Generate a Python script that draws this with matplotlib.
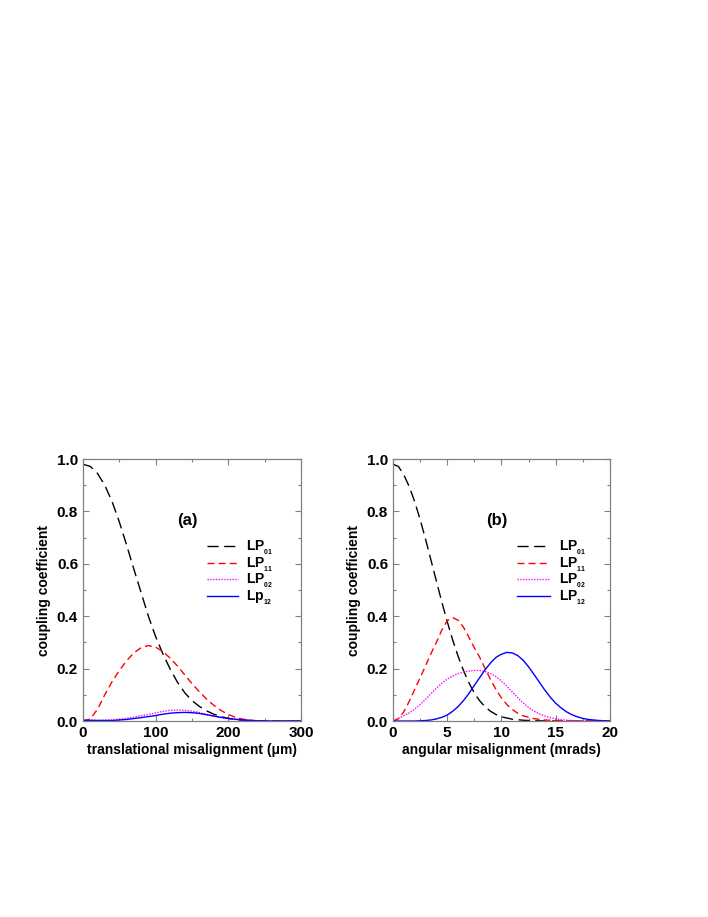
import matplotlib
matplotlib.use('Agg')
import matplotlib.pyplot as plt

plt.rcParams['font.family'] = ['Liberation Sans', 'DejaVu Sans']
plt.rcParams['font.weight'] = 'bold'
plt.rcParams['mathtext.fontset'] = 'custom'
plt.rcParams['mathtext.rm'] = 'Liberation Sans:bold'
plt.rcParams['mathtext.bf'] = 'Liberation Sans:bold'
plt.rcParams['mathtext.default'] = 'bf'

# (a) translational misalignment (um)
xa_01 = [0, 10, 20, 30, 40, 50, 60, 70, 80, 90, 100, 110, 120, 130, 140, 150, 160, 170, 180, 190, 200, 210, 220, 235, 250, 300]
ya_01 = [0.98, 0.972, 0.945, 0.9, 0.838, 0.76, 0.672, 0.58, 0.49, 0.4, 0.322, 0.256, 0.198, 0.148, 0.108, 0.078,
         0.056, 0.039, 0.026, 0.017, 0.01, 0.006, 0.003, 0.001, 0.0, 0.0]
xa_11 = [0, 10, 20, 30, 40, 50, 60, 70, 80, 90, 100, 110, 120, 130, 140, 150, 160, 170, 180, 190, 200, 210, 220, 230, 240, 260, 300]
ya_11 = [0.0, 0.008, 0.045, 0.1, 0.15, 0.193, 0.23, 0.26, 0.28, 0.288, 0.282, 0.265, 0.24, 0.21, 0.176, 0.143,
         0.112, 0.084, 0.06, 0.04, 0.025, 0.014, 0.007, 0.003, 0.001, 0.0, 0.0]
xa_02 = [0, 20, 40, 60, 80, 100, 110, 120, 130, 140, 150, 160, 170, 180, 190, 200, 210, 220, 240, 260, 300]
ya_02 = [0.004, 0.003, 0.004, 0.01, 0.02, 0.031, 0.037, 0.041, 0.042, 0.041, 0.038, 0.032, 0.026, 0.019, 0.013,
         0.009, 0.006, 0.004, 0.001, 0.0, 0.0]
xa_12 = [0, 20, 40, 60, 80, 100, 110, 120, 130, 140, 150, 160, 170, 180, 190, 200, 210, 220, 240, 260, 300]
ya_12 = [0.003, 0.002, 0.002, 0.006, 0.013, 0.021, 0.026, 0.03, 0.032, 0.033, 0.032, 0.029, 0.024, 0.019, 0.014,
         0.01, 0.007, 0.004, 0.001, 0.0, 0.0]

# (b) angular misalignment (mrads)
xb_01 = [0, 0.5, 1, 1.5, 2, 2.5, 3, 3.5, 4, 4.5, 5, 5.5, 6, 6.5, 7, 7.5, 8, 8.5, 9, 9.5, 10, 11, 12, 13, 15, 20]
yb_01 = [0.98, 0.972, 0.94, 0.895, 0.838, 0.77, 0.695, 0.615, 0.535, 0.455, 0.38, 0.31, 0.248, 0.193, 0.146,
         0.107, 0.077, 0.054, 0.037, 0.025, 0.016, 0.007, 0.003, 0.001, 0.0, 0.0]
xb_11 = [0, 0.5, 1, 1.5, 2, 2.5, 3, 3.5, 4, 4.5, 5, 5.5, 6, 6.5, 7, 7.5, 8, 8.5, 9, 9.5, 10, 10.5, 11, 11.5, 12,
         13, 14, 15, 17, 20]
yb_11 = [0.0, 0.008, 0.035, 0.075, 0.12, 0.165, 0.21, 0.257, 0.3, 0.347, 0.383, 0.395, 0.385, 0.358, 0.32, 0.28,
         0.243, 0.2, 0.158, 0.12, 0.088, 0.063, 0.044, 0.03, 0.02, 0.009, 0.004, 0.002, 0.0, 0.0]
xb_02 = [0, 0.5, 1, 1.5, 2, 2.5, 3, 3.5, 4, 4.5, 5, 5.5, 6, 6.5, 7, 7.5, 8, 8.5, 9, 9.5, 10, 10.5, 11, 11.5, 12,
         12.5, 13, 13.5, 14, 14.5, 15, 16, 17, 18, 20]
yb_02 = [0.005, 0.01, 0.02, 0.031, 0.045, 0.063, 0.083, 0.104, 0.125, 0.144, 0.16, 0.172, 0.181, 0.187, 0.191,
         0.193, 0.193, 0.189, 0.181, 0.169, 0.153, 0.133, 0.111, 0.089, 0.069, 0.052, 0.038, 0.027, 0.019, 0.013,
         0.008, 0.003, 0.001, 0.0, 0.0]
xb_12 = [0, 2, 3, 3.5, 4, 4.5, 5, 5.5, 6, 6.5, 7, 7.5, 8, 8.5, 9, 9.5, 10, 10.5, 11, 11.5, 12, 12.5, 13, 13.5, 14,
         14.5, 15, 15.5, 16, 16.5, 17, 17.5, 18, 19, 20]
yb_12 = [0.0, 0.0, 0.002, 0.004, 0.008, 0.014, 0.023, 0.037, 0.055, 0.078, 0.105, 0.136, 0.166, 0.196, 0.222,
         0.243, 0.255, 0.262, 0.26, 0.25, 0.232, 0.207, 0.178, 0.148, 0.118, 0.091, 0.068, 0.05, 0.035, 0.024,
         0.016, 0.01, 0.006, 0.002, 0.0]

labels_a = [r'LP$_{_{01}}$', r'LP$_{_{11}}$', r'LP$_{_{02}}$', r'Lp$_{_{12}}$']
labels_b = [r'LP$_{_{01}}$', r'LP$_{_{11}}$', r'LP$_{_{02}}$', r'LP$_{_{12}}$']

styles = [dict(color='black', dashes=(8, 4)),
          dict(color='red', dashes=(5, 3)),
          dict(color='magenta', dashes=(1, 1)),
          dict(color='blue', linestyle='-')]

fig = plt.figure(figsize=(7.08, 9.17), dpi=100)
ax1 = fig.add_axes([0.1172, 0.2137, 0.308, 0.2857])
ax2 = fig.add_axes([0.555, 0.2137, 0.3065, 0.2857])


def draw(ax, xs, ys, labels, xmax, xmajor, xlabel, tag, leg_x, hlen):
    for x, y, lab, st in zip(xs, ys, labels, styles):
        ax.plot(x, y, lw=1.0, label=lab, **st)
    ax.set_xlim(0, xmax)
    ax.set_ylim(0, 1.0)
    ax.set_xticks([i * xmajor for i in range(int(xmax / xmajor) + 1)])
    ax.set_xticks([(i + 0.5) * xmajor for i in range(int(xmax / xmajor))], minor=True)
    ax.set_yticks([0, 0.2, 0.4, 0.6, 0.8, 1.0])
    ax.set_yticks([0.1, 0.3, 0.5, 0.7, 0.9], minor=True)
    ax.set_yticklabels(['0.0', '0.2', '0.4', '0.6', '0.8', '1.0'])
    ax.tick_params(which='both', direction='in', top=True, right=True, color='#808080',
                   labelsize=11, width=0.8)
    ax.tick_params(which='major', length=4)
    ax.tick_params(which='minor', length=2)
    for sp in ax.spines.values():
        sp.set_color('#808080')
        sp.set_linewidth(0.9)
    ax.set_xlabel(xlabel, fontsize=10, fontweight='bold', labelpad=2)
    ax.set_ylabel('coupling coefficient', fontsize=10, fontweight='bold', labelpad=4)
    ax.text(0.48, 0.765, tag, transform=ax.transAxes, fontsize=12, fontweight='bold',
            ha='center', va='center')
    ax.legend(loc='upper left', bbox_to_anchor=(leg_x, 0.694), frameon=False,
              fontsize=10, handlelength=hlen, handletextpad=0.6, labelspacing=-0.12,
              borderpad=0, borderaxespad=0)


draw(ax1, [xa_01, xa_11, xa_02, xa_12], [ya_01, ya_11, ya_02, ya_12], labels_a,
     300, 100, 'translational misalignment (\u03bcm)', '(a)', 0.569, 2.2)
draw(ax2, [xb_01, xb_11, xb_02, xb_12], [yb_01, yb_11, yb_02, yb_12], labels_b,
     20, 5, 'angular misalignment (mrads)', '(b)', 0.571, 2.4)

fig.savefig('out.png', dpi=100)
